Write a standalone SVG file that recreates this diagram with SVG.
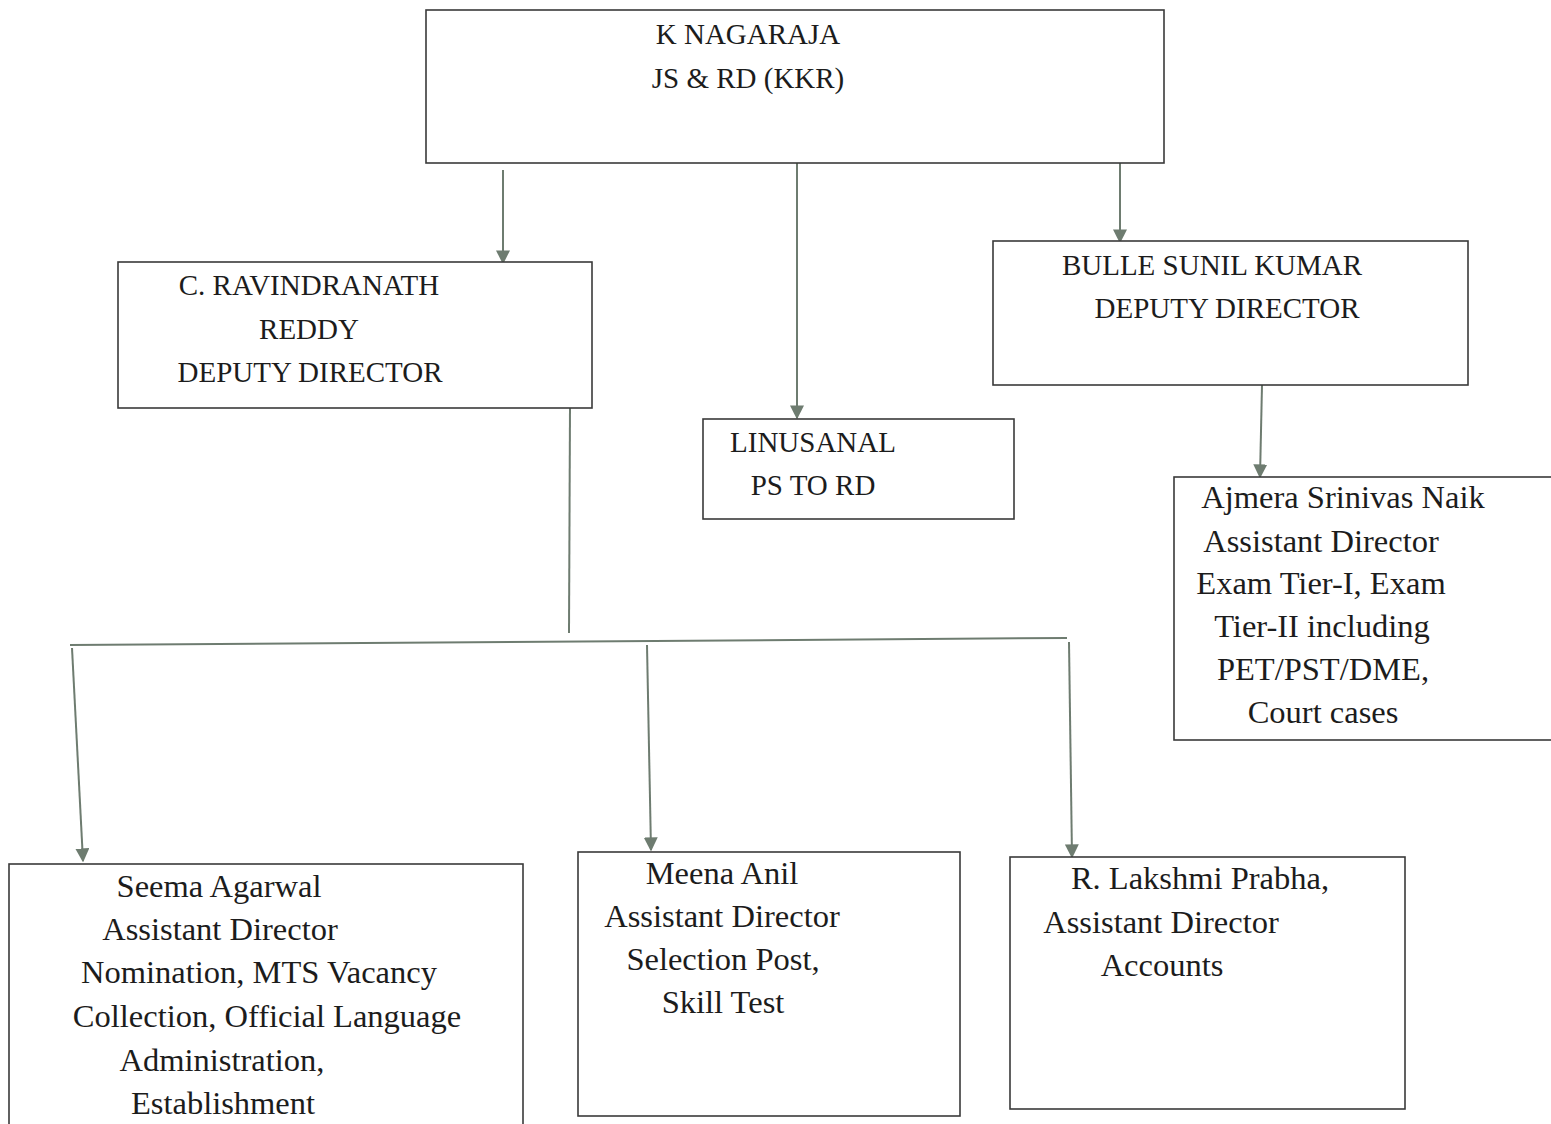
<svg xmlns="http://www.w3.org/2000/svg" width="1551" height="1124" viewBox="0 0 1551 1124">
<defs>
<style>
.box{fill:#fff;stroke:#3a3a3a;stroke-width:1.6}
.t{font-family:"Liberation Serif","Times New Roman",serif;font-size:29px;fill:#1c1c1c;text-anchor:middle}
.m{font-size:32.5px}
.c{stroke:#6e7c70;stroke-width:2;fill:none}
.ca{stroke:#6e7c70;stroke-width:2;fill:none;marker-end:url(#ah)}
</style>
<marker id="ah" viewBox="0 0 10 10" refX="9" refY="5" markerWidth="14" markerHeight="14" markerUnits="userSpaceOnUse" orient="auto">
<path d="M0,0 L10,5 L0,10 z" fill="#6e7c70"/>
</marker>
</defs>
<rect width="1551" height="1124" fill="#fff"/>
<g id="connectors">
<line class="ca" x1="503" y1="170" x2="503" y2="263"/>
<line class="ca" x1="797" y1="163" x2="797" y2="418"/>
<line class="ca" x1="1120" y1="163" x2="1120" y2="242"/>
<line class="ca" x1="1262" y1="385" x2="1260" y2="477"/>
<line class="c" x1="570" y1="407" x2="569" y2="633"/>
<line class="c" x1="70" y1="645" x2="1067" y2="638"/>
<line class="ca" x1="72" y1="648" x2="83" y2="861"/>
<line class="ca" x1="647" y1="645" x2="651" y2="850"/>
<line class="ca" x1="1069" y1="642" x2="1072" y2="857"/>
</g>
<g id="n-nagaraja">
<rect class="box" x="426" y="10" width="738" height="153"/>
<text class="t" x="748" y="44">K NAGARAJA</text>
<text class="t" x="748" y="88">JS &amp; RD (KKR)</text>
</g>
<g id="n-ravindranath">
<rect class="box" x="118" y="262" width="474" height="146"/>
<text class="t" x="309" y="295">C. RAVINDRANATH</text>
<text class="t" x="309" y="339">REDDY</text>
<text class="t" x="310" y="382">DEPUTY DIRECTOR</text>
</g>
<g id="n-bulle">
<rect class="box" x="993" y="241" width="475" height="144"/>
<text class="t" x="1212" y="275">BULLE SUNIL KUMAR</text>
<text class="t" x="1227" y="318">DEPUTY DIRECTOR</text>
</g>
<g id="n-linusanal">
<rect class="box" x="703" y="419" width="311" height="100"/>
<text class="t" x="813" y="452">LINUSANAL</text>
<text class="t" x="813" y="495">PS TO RD</text>
</g>
<g id="n-ajmera">
<rect class="box" x="1174" y="477" width="380" height="263"/>
<text class="t m" x="1343" y="508">Ajmera Srinivas Naik</text>
<text class="t m" x="1321" y="552">Assistant Director</text>
<text class="t m" x="1321" y="594">Exam Tier-I, Exam</text>
<text class="t m" x="1322" y="637">Tier-II including</text>
<text class="t m" x="1323" y="680">PET/PST/DME,</text>
<text class="t m" x="1323" y="723">Court cases</text>
</g>
<g id="n-seema">
<rect class="box" x="9" y="864" width="514" height="270"/>
<text class="t m" x="219" y="897">Seema Agarwal</text>
<text class="t m" x="220" y="940">Assistant Director</text>
<text class="t m" x="259" y="983">Nomination, MTS Vacancy</text>
<text class="t m" x="267" y="1027">Collection, Official Language</text>
<text class="t m" x="222" y="1071">Administration,</text>
<text class="t m" x="223" y="1114">Establishment</text>
</g>
<g id="n-meena">
<rect class="box" x="578" y="852" width="382" height="264"/>
<text class="t m" x="722" y="884">Meena Anil</text>
<text class="t m" x="722" y="927">Assistant Director</text>
<text class="t m" x="723" y="970">Selection Post,</text>
<text class="t m" x="723" y="1013">Skill Test</text>
</g>
<g id="n-lakshmi">
<rect class="box" x="1010" y="857" width="395" height="252"/>
<text class="t m" x="1200" y="889">R. Lakshmi Prabha,</text>
<text class="t m" x="1161" y="933">Assistant Director</text>
<text class="t m" x="1162" y="976">Accounts</text>
</g>
</svg>
